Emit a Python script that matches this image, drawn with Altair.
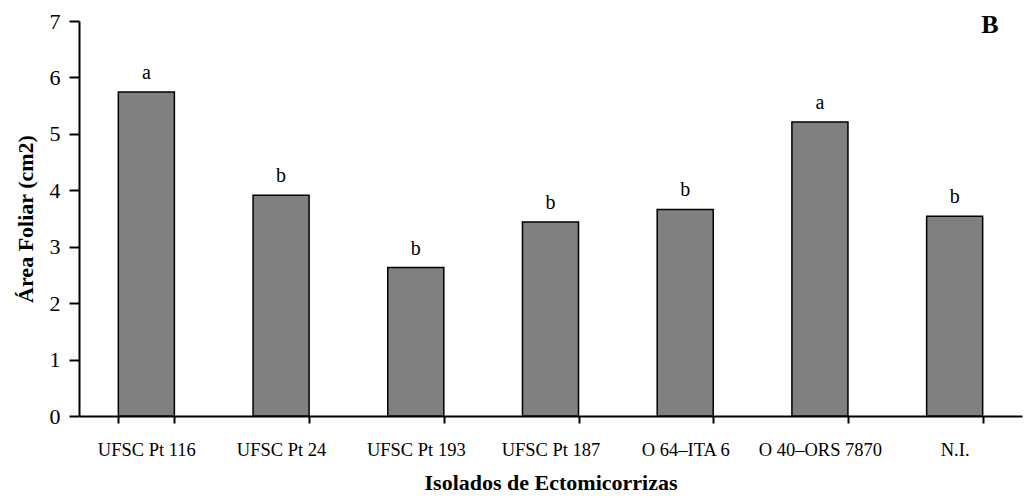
import altair as alt
import pandas as pd

# Leaf area per ectomycorrhizal isolate, with significance letters
isolados = ["UFSC Pt 116", "UFSC Pt 24", "UFSC Pt 193", "UFSC Pt 187",
            "O 64–ITA 6", "O 40–ORS 7870", "N.I."]
area_foliar = [5.74, 3.91, 2.63, 3.44, 3.66, 5.21, 3.54]
letras = ["a", "b", "b", "b", "b", "a", "b"]
painel = ["B"]

df = pd.DataFrame({"isolado": isolados, "area": area_foliar, "letra": letras})
df_painel = pd.DataFrame({"rotulo": painel})

FONT = "Liberation Serif"

x_enc = alt.X(
    "isolado:N",
    sort=isolados,
    scale=alt.Scale(paddingInner=0.584, paddingOuter=0.292),
    axis=alt.Axis(
        title="Isolados de Ectomicorrizas",
        labelAngle=0,
        labelFont=FONT,
        labelFontSize=18.5,
        labelColor="black",
        labelPadding=17,
        titleFont=FONT,
        titleFontSize=22,
        titleFontWeight="bold",
        titleColor="black",
        titlePadding=14,
        domainColor="black",
        domainWidth=2,
        tickColor="black",
        tickWidth=2,
        tickSize=7,
        tickBand="extent",
    ),
)

y_enc = alt.Y(
    "area:Q",
    scale=alt.Scale(domain=[0, 7], nice=False),
    axis=alt.Axis(
        title="Área Foliar (cm2)",
        values=[0, 1, 2, 3, 4, 5, 6, 7],
        format="d",
        grid=False,
        labelFont=FONT,
        labelFontSize=22,
        labelColor="black",
        labelPadding=9,
        titleFont=FONT,
        titleFontSize=22,
        titleFontWeight="bold",
        titleColor="black",
        titlePadding=12,
        domainColor="black",
        domainWidth=2,
        tickColor="black",
        tickWidth=2,
        tickSize=10,
    ),
)

bars = alt.Chart(df).mark_bar(
    color="#808080", stroke="black", strokeWidth=1.5
).encode(x=x_enc, y=y_enc)

labels = alt.Chart(df).mark_text(
    font=FONT, fontSize=20, color="black", baseline="bottom", dy=-9
).encode(x=alt.X("isolado:N", sort=isolados), y="area:Q", text="letra:N")

panel = alt.Chart(df_painel).mark_text(
    font=FONT, fontSize=26, fontWeight="bold", color="black",
    align="center", baseline="middle"
).encode(x=alt.value(911), y=alt.value(4), text="rotulo:N")

chart = alt.layer(bars, labels, panel).properties(
    width=943,
    height=395,
    autosize=alt.AutoSizeParams(type="none"),
    padding={"left": 79, "top": 21, "right": 4, "bottom": 82},
    background="white",
).configure_view(stroke=None)

chart.save("out.html", embed_options={"renderer": "svg", "actions": False})
